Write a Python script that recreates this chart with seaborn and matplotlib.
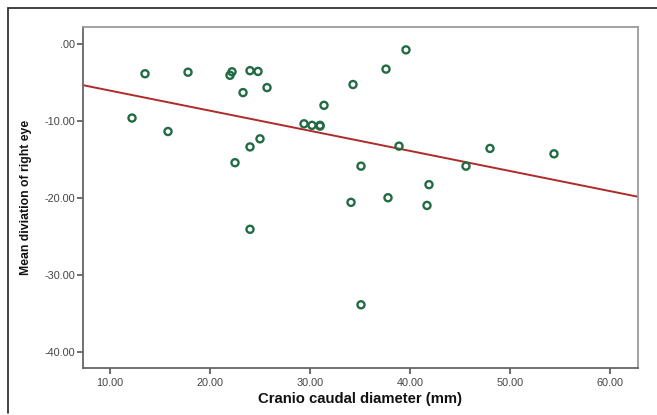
import matplotlib
matplotlib.use("Agg")
import matplotlib.pyplot as plt
from matplotlib.lines import Line2D
from matplotlib.ticker import FuncFormatter, FixedLocator
import seaborn as sns
import pandas as pd

# Cranio-caudal diameter (mm) against mean deviation of the right eye
cc_diameter = [12.2, 13.5, 15.8, 17.8, 22.0, 22.2, 23.3, 24.0, 24.8, 25.7,
               22.5, 24.0, 25.0, 24.0, 29.4, 30.2, 31.0, 31.0, 31.4, 34.3,
               37.6, 39.6, 38.9, 35.1, 48.0, 45.6, 54.4, 41.9, 34.1, 37.8,
               41.7, 35.1]
mean_deviation = [-9.65, -3.9, -11.4, -3.7, -4.1, -3.65, -6.35, -3.5, -3.6, -5.7,
                  -15.45, -13.4, -12.35, -24.1, -10.4, -10.6, -10.6, -10.7, -8.0, -5.3,
                  -3.3, -0.8, -13.3, -15.9, -13.6, -15.9, -14.3, -18.3, -20.6, -20.0,
                  -21.0, -33.9]

# Linear fit line (intercept, slope)
fit_intercept = -3.48
fit_slope = -0.261

x_ticks = [10, 20, 30, 40, 50, 60]
y_ticks = [0, -10, -20, -30, -40]

df = pd.DataFrame({"cc": cc_diameter, "md": mean_deviation})

sns.set_style("white")
plt.rcParams["font.family"] = ["Liberation Sans", "DejaVu Sans"]

fig = plt.figure(figsize=(6.57, 4.15), dpi=100)
ax = fig.add_axes([0.1256, 0.1125, 0.845, 0.8232])

ax.axline((0, fit_intercept), slope=fit_slope, color="#b02a2a", lw=1.4, zorder=2)

sns.scatterplot(data=df, x="cc", y="md", ax=ax, marker="o", s=26,
                facecolors="none", edgecolor="#236b45", linewidth=1.7, zorder=3)

ax.set_xlim(7.25, 62.77)
ax.set_ylim(-42.15, 2.21)
ax.xaxis.set_major_locator(FixedLocator(x_ticks))
ax.yaxis.set_major_locator(FixedLocator(y_ticks))


def fmt(v, pos):
    s = f"{v:.2f}"
    if s.startswith("0."):
        s = s[1:]
    if s == "-0.00":
        s = ".00"
    return s


ax.xaxis.set_major_formatter(FuncFormatter(fmt))
ax.yaxis.set_major_formatter(FuncFormatter(fmt))

ax.tick_params(axis="both", which="major", direction="out", length=4, width=1.2,
               color="#555555", labelsize=7.8, labelcolor="#444444", pad=1.5)
ax.tick_params(axis="x", pad=3)
ax.xaxis.set_ticks_position("bottom")
ax.yaxis.set_ticks_position("left")

for side in ["left", "bottom"]:
    ax.spines[side].set_color("#666666")
    ax.spines[side].set_linewidth(1.3)
for side in ["top", "right"]:
    ax.spines[side].set_color("#9a9a9a")
    ax.spines[side].set_linewidth(1.3)

ax.set_xlabel("Cranio caudal diameter (mm)", fontsize=10.7, fontweight="bold",
              color="#111111")
ax.xaxis.set_label_coords(0.4998, -0.069)
ax.set_ylabel("Mean diviation of right eye", fontsize=8.8, fontweight="bold",
              color="#111111")
ax.yaxis.set_label_coords(-0.091, 0.5015)

# Outer frame lines (top and left)
W, H = 657.0, 415.0
fig.add_artist(Line2D([7.5 / W, 1.0], [1 - 8 / H, 1 - 8 / H],
                      transform=fig.transFigure, color="#333333", lw=1.3))
fig.add_artist(Line2D([7.5 / W, 7.5 / W], [1 - 8 / H, 1 - 413 / H],
                      transform=fig.transFigure, color="#333333", lw=1.3))

fig.savefig("out.png", dpi=100)
